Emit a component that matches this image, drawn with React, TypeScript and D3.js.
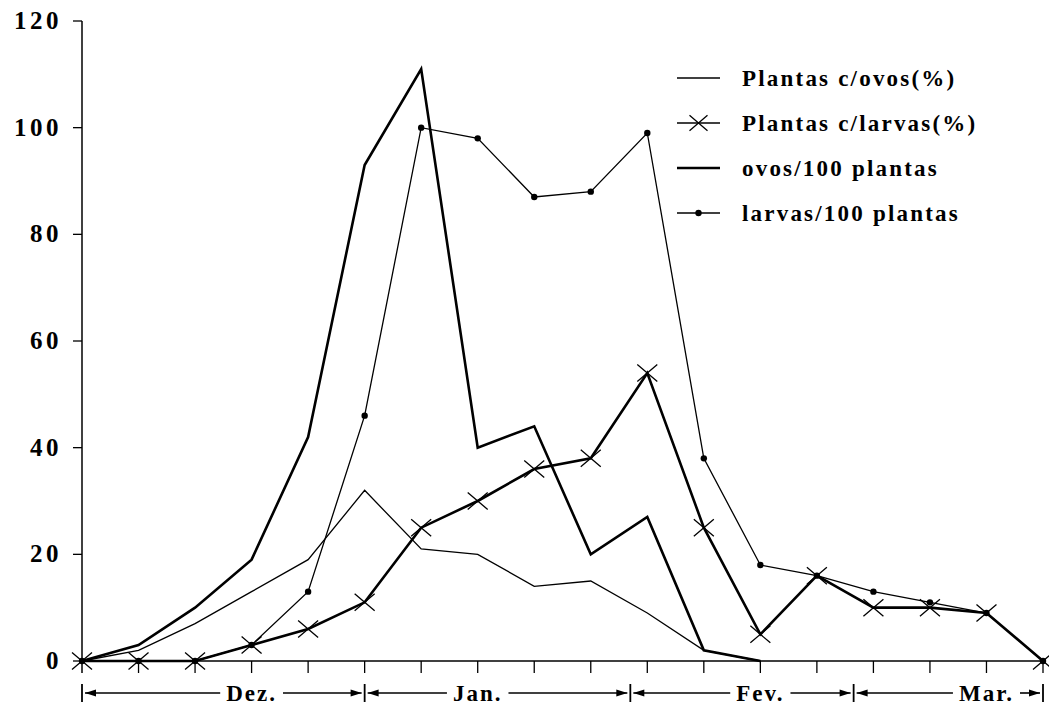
import * as d3 from "d3";

// leituras (amostras semanais, dez -> mar)
const OVOS_PCT = [0, 2, 7, 13, 19, 32, 21, 20, 14, 15, 9, 2, 0];
const LARVAS_PCT = [0, 0, 0, 3, 6, 11, 25, 30, 36, 38, 54, 25, 5, 16, 10, 10, 9, 0];
const OVOS_100 = [0, 3, 10, 19, 42, 93, 111, 40, 44, 20, 27, 2, 0];
const LARVAS_100 = [0, 0, 0, 3, 13, 46, 100, 98, 87, 88, 99, 38, 18, 16, 13, 11, 9, 0];

const Y_TICKS = [0, 20, 40, 60, 80, 100, 120];
const MONTHS = ["Dez.", "Jan.", "Fev.", "Mar."];
const MONTH_BOUNDS = [0, 5, 9.7, 13.65, 17];
const MONTH_LABEL_AT = [3, 7, 12, 16];
const LEGEND = [
  "Plantas c/ovos(%)",
  "Plantas c/larvas(%)",
  "ovos/100 plantas",
  "larvas/100 plantas",
];

const W = 1049;
const H = 705;
const FONT = "'Liberation Serif', 'DejaVu Serif', serif";
const THIN = 1.3;
const THICK = 2.6;
const MONTH_FS = 23;
const MONTH_LS = 2;

const x = d3.scaleLinear().domain([0, 17]).range([82, 1043]);
const y = d3.scaleLinear().domain([0, 120]).range([661, 21]);

const line = d3
  .line<number>()
  .x((_, i) => x(i))
  .y((d) => y(d));

// largura aproximada do texto, para abrir o espaço na linha dos meses
const ctx = document.createElement("canvas").getContext("2d");
const textWidth = (s: string) => {
  if (!ctx) return s.length * 12;
  ctx.font = `bold ${MONTH_FS}px 'Liberation Serif'`;
  return ctx.measureText(s).width + MONTH_LS * (s.length - 1);
};

const Cross = ({ cx, cy, r = 10 }: { cx: number; cy: number; r?: number }) => (
  <path
    d={`M${cx - r},${cy - r * 0.85}L${cx + r},${cy + r * 0.85}M${cx - r},${cy + r * 0.85}L${cx + r},${cy - r * 0.85}`}
    stroke="#000"
    strokeWidth={1.3}
    fill="none"
  />
);

const Arrow = ({ tip, yy, dir }: { tip: number; yy: number; dir: 1 | -1 }) => (
  <path
    d={`M${tip},${yy}L${tip + dir * 11},${yy - 3.5}L${tip + dir * 11},${yy + 3.5}Z`}
    fill="#000"
  />
);

export default function App() {
  const x0 = x(0);
  const yBase = y(0);
  const monthY = 693;

  const legendRows = [78, 123, 168, 213];
  const lx1 = 677;
  const lx2 = 720;

  return (
    <svg
      width={W}
      height={H}
      viewBox={`0 0 ${W} ${H}`}
      style={{ position: "absolute", left: 0, top: 0, background: "#fff" }}
    >
      <rect width={W} height={H} fill="#fff" />

      {/* eixo y */}
      <line x1={x0} x2={x0} y1={y(120)} y2={yBase + 12} stroke="#000" strokeWidth={1.5} />
      {Y_TICKS.map((t) => (
        <g key={t}>
          <line x1={x0 - 9} x2={x0} y1={y(t)} y2={y(t)} stroke="#000" strokeWidth={1.3} />
          <text
            x={62}
            y={y(t) + 8}
            textAnchor="end"
            fontFamily={FONT}
            fontWeight="bold"
            fontSize={25}
            letterSpacing={3.5}
          >
            {t}
          </text>
        </g>
      ))}

      {/* eixo x */}
      <line x1={x0} x2={x(17)} y1={yBase} y2={yBase} stroke="#000" strokeWidth={1.5} />
      {d3.range(1, 18).map((i) => (
        <line key={i} x1={x(i)} x2={x(i)} y1={yBase} y2={yBase + 12} stroke="#000" strokeWidth={1.3} />
      ))}

      {/* meses */}
      {MONTHS.map((m, k) => {
        const a = x(MONTH_BOUNDS[k]);
        const b = x(MONTH_BOUNDS[k + 1]);
        const c = x(MONTH_LABEL_AT[k]);
        const half = textWidth(m) / 2;
        return (
          <g key={m}>
            <line x1={a + 3} x2={c - half - 7} y1={monthY} y2={monthY} stroke="#000" strokeWidth={1.6} />
            <line x1={c + half + 7} x2={b - 3} y1={monthY} y2={monthY} stroke="#000" strokeWidth={1.6} />
            <Arrow tip={a + 3} yy={monthY} dir={1} />
            <Arrow tip={b - 3} yy={monthY} dir={-1} />
            {k === 0 && (
              <line x1={a} x2={a} y1={monthY - 9} y2={monthY + 9} stroke="#000" strokeWidth={1.8} />
            )}
            <line x1={b} x2={b} y1={monthY - 9} y2={monthY + 9} stroke="#000" strokeWidth={1.8} />
            <text
              x={c}
              y={monthY + 8}
              textAnchor="middle"
              fontFamily={FONT}
              fontWeight="bold"
              fontSize={MONTH_FS}
              letterSpacing={MONTH_LS}
            >
              {m}
            </text>
          </g>
        );
      })}

      {/* séries */}
      <path d={line(OVOS_PCT) ?? ""} fill="none" stroke="#000" strokeWidth={THIN} />
      <path d={line(LARVAS_100) ?? ""} fill="none" stroke="#000" strokeWidth={THIN} />
      {LARVAS_100.map((v, i) => (
        <circle key={i} cx={x(i)} cy={y(v)} r={3.2} fill="#000" />
      ))}
      <path d={line(OVOS_100) ?? ""} fill="none" stroke="#000" strokeWidth={THICK} />
      <path d={line(LARVAS_PCT) ?? ""} fill="none" stroke="#000" strokeWidth={THICK} />
      {LARVAS_PCT.map((v, i) => (
        <Cross key={i} cx={x(i)} cy={y(v)} />
      ))}

      {/* legenda */}
      {LEGEND.map((name, i) => {
        const ly = legendRows[i];
        return (
          <g key={name}>
            <line
              x1={lx1}
              x2={lx2}
              y1={ly}
              y2={ly}
              stroke="#000"
              strokeWidth={i === 2 ? THICK : THIN}
            />
            {i === 1 && <Cross cx={(lx1 + lx2) / 2} cy={ly} r={9} />}
            {i === 3 && <circle cx={(lx1 + lx2) / 2} cy={ly} r={3.2} fill="#000" />}
            <text
              x={742}
              y={ly + 8}
              fontFamily={FONT}
              fontWeight="bold"
              fontSize={23}
              letterSpacing={2.2}
            >
              {name}
            </text>
          </g>
        );
      })}
    </svg>
  );
}
